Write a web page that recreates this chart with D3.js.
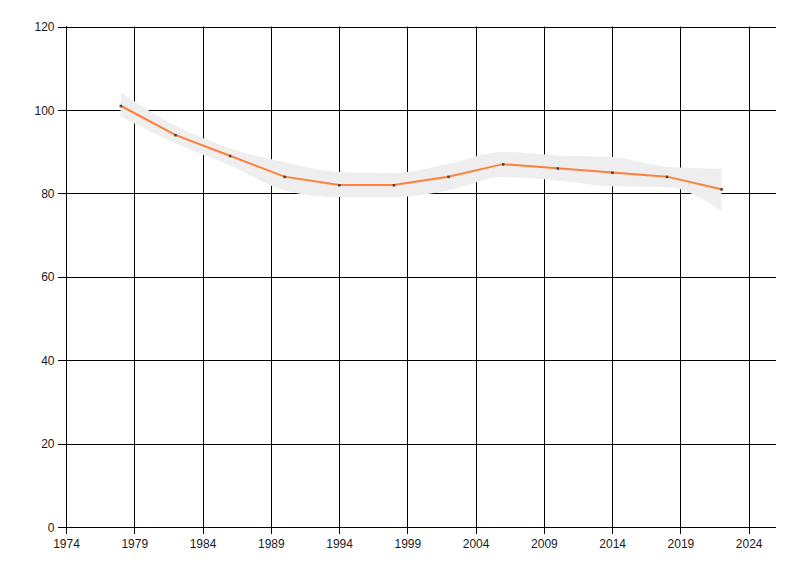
<!DOCTYPE html>
<html><head><meta charset="utf-8">
<script src="https://cdn.jsdelivr.net/npm/d3@7"></script>
<style>body{margin:0;background:#fff}</style>
</head><body><svg id="c" width="800" height="576"></svg>
<script>
const years = [1978,1982,1986,1990,1994,1998,2002,2006,2010,2014,2018,2022];
const values = [101,94,89,84,82,82,84,87,86,85,84,81];
const upper = [104.2,96.3,90.8,87.5,85.1,84.9,87.1,89.9,89.1,88.7,86.4,85.9];
const lower = [98.4,92.0,86.7,80.7,79.1,79.1,80.7,83.9,83.1,81.7,81.5,75.8];
const xTicks = [1974,1979,1984,1989,1994,1999,2004,2009,2014,2019,2024];
const yTicks = [0,20,40,60,80,100,120];

const FONT='"Liberation Sans Narrow","Liberation Sans",Arial,sans-serif';
const L=66,R=776,T=26.5,B=527;
const svg=d3.select("#c");
const x=d3.scaleLinear().domain([1974,2026]).range([L,R]);
const y=d3.scaleLinear().domain([0,120]).range([B,T]);

// y axis labels + grid
const gy=svg.append("g").attr("transform",`translate(${L+0.5},0)`)
  .call(d3.axisLeft(y).tickValues(yTicks).tickSize(8).tickPadding(3));
gy.selectAll(".tick line").remove();
gy.select(".domain").remove();
gy.selectAll(".tick text").attr("x",-12).attr("dy","0.35em");
yTicks.forEach(v=>{
  svg.append("line").attr("x1",L-8).attr("x2",R).attr("y1",Math.round(y(v))+0.5).attr("y2",Math.round(y(v))+0.5).attr("stroke","#000");
});
// x axis labels + grid
const gx=svg.append("g").attr("transform",`translate(0,${B+0.5})`)
  .call(d3.axisBottom(x).tickValues(xTicks).tickFormat(d3.format("d")).tickPadding(6));
gx.selectAll(".tick line").remove();
gx.select(".domain").remove();
xTicks.forEach(v=>{
  svg.append("line").attr("x1",Math.round(x(v))+0.5).attr("x2",Math.round(x(v))+0.5).attr("y1",T).attr("y2",B+7).attr("stroke","#000");
});
svg.append("line").attr("x1",L+0.5).attr("x2",L+0.5).attr("y1",T).attr("y2",B).attr("stroke","#000");
svg.selectAll("text").attr("font-family",FONT).attr("font-size",12).style("fill","#1a1a1a");

// band
const idx=d3.range(years.length);
const area=d3.area().x(i=>x(years[i])).y0(i=>y(lower[i])).y1(i=>y(upper[i])).curve(d3.curveMonotoneX);
svg.append("path").attr("d",area(idx)).attr("fill","#eeeeee");

// line
const line=d3.line().x(i=>x(years[i])).y(i=>y(values[i]));
svg.append("path").attr("d",line(idx)).attr("fill","none").attr("stroke","#ff7f3a").attr("stroke-width",2);
svg.selectAll("rect.m").data(idx).enter().append("rect").attr("class","m")
  .attr("x",i=>x(years[i])-1).attr("y",i=>y(values[i])-1).attr("width",2.5).attr("height",2.5).attr("fill","#444");
</script></body></html>
